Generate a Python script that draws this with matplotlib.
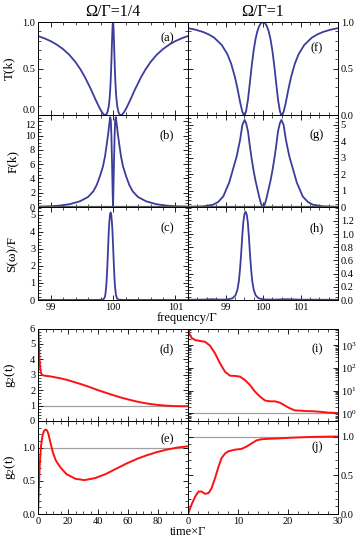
import matplotlib
matplotlib.use('Agg')
import matplotlib.pyplot as plt
from matplotlib.ticker import MultipleLocator, FixedLocator, LogLocator, NullFormatter

plt.rcParams['font.family'] = ['Liberation Serif', 'DejaVu Serif']
plt.rcParams['mathtext.fontset'] = 'custom'
plt.rcParams['mathtext.rm'] = 'Liberation Serif'
plt.rcParams['mathtext.it'] = 'Liberation Serif:italic'
plt.rcParams['mathtext.bf'] = 'Liberation Serif:bold'

# ---------------- data ----------------
# (a) T(k), Omega/Gamma = 1/4
fa = [98.8, 98.9, 99.0, 99.1, 99.2, 99.3, 99.4, 99.48, 99.55, 99.65, 99.72, 99.78, 99.82,
      99.85, 99.865, 99.875, 99.885, 99.9, 99.915, 99.93, 99.945, 99.9525, 99.96, 99.965,
      99.97, 99.975, 99.98, 99.985, 99.99, 99.995, 100.0,
      100.005, 100.01, 100.015, 100.02, 100.025, 100.03, 100.035, 100.04, 100.0475, 100.055,
      100.07, 100.085, 100.1, 100.115, 100.125, 100.135, 100.15, 100.18, 100.22, 100.28,
      100.35, 100.45, 100.52, 100.6, 100.7, 100.8, 100.9, 101.0, 101.1, 101.2]
Ta = [0.849, 0.825, 0.795, 0.757, 0.709, 0.648, 0.569, 0.49, 0.408, 0.272, 0.167, 0.082, 0.034,
      0.008, 0.0015, 0.0, 0.0017, 0.0125, 0.038, 0.086, 0.174, 0.241, 0.33, 0.404,
      0.491, 0.59, 0.699, 0.808, 0.906, 0.975, 1.0,
      0.975, 0.906, 0.808, 0.699, 0.59, 0.491, 0.404, 0.33, 0.241, 0.174,
      0.086, 0.038, 0.0125, 0.0017, 0.0, 0.0015, 0.008, 0.034, 0.082, 0.167,
      0.272, 0.408, 0.49, 0.569, 0.648, 0.709, 0.757, 0.795, 0.825, 0.849]

# (f) T(k), Omega/Gamma = 1
ff = [98.0, 98.2, 98.4, 98.55, 98.7, 98.9, 99.05, 99.15, 99.25, 99.3, 99.33, 99.4, 99.45,
      99.48, 99.5, 99.52, 99.55, 99.6, 99.65, 99.7, 99.75, 99.8, 99.85, 99.9, 99.95, 100.0,
      100.05, 100.1, 100.15, 100.2, 100.25, 100.3, 100.35, 100.4, 100.45, 100.48, 100.5,
      100.52, 100.55, 100.6, 100.67, 100.7, 100.75, 100.85, 100.95, 101.1, 101.3, 101.45,
      101.6, 101.8, 102.0]
Tf = [0.934, 0.917, 0.893, 0.867, 0.831, 0.753, 0.654, 0.553, 0.41, 0.32, 0.261, 0.118, 0.035,
      0.0066, 0.0, 0.006, 0.043, 0.168, 0.347, 0.532, 0.692, 0.815, 0.902, 0.958, 0.99, 1.0,
      0.99, 0.958, 0.902, 0.815, 0.692, 0.532, 0.347, 0.168, 0.043, 0.006, 0.0,
      0.0066, 0.035, 0.118, 0.261, 0.32, 0.41, 0.553, 0.654, 0.753, 0.831, 0.867,
      0.893, 0.917, 0.934]

# (b) F(k), Omega/Gamma = 1/4
fb = [98.8, 99.0, 99.15, 99.31, 99.47, 99.6, 99.685, 99.74, 99.79, 99.84, 99.872, 99.9,
      99.925, 99.94, 99.955, 99.965, 99.975, 99.985, 99.995, 100.0,
      100.005, 100.015, 100.025, 100.035, 100.045, 100.06, 100.075, 100.1, 100.128, 100.16,
      100.21, 100.26, 100.315, 100.4, 100.53, 100.69, 100.85, 101.0, 101.2]
Fb = [0.05, 0.1, 0.2, 0.4, 0.8, 1.4, 2.2, 3.1, 4.3, 5.7, 7.1, 8.8,
      10.4, 11.6, 12.6, 12.2, 9.8, 6.0, 1.8, 0.0,
      1.8, 6.0, 9.8, 12.2, 12.6, 11.6, 10.4, 8.8, 7.1, 5.7,
      4.3, 3.1, 2.2, 1.4, 0.8, 0.4, 0.2, 0.1, 0.05]

# (g) F(k), Omega/Gamma = 1
fg = [98.0, 98.4, 98.67, 98.8, 98.94, 99.1, 99.2, 99.3, 99.39, 99.45, 99.51, 99.55, 99.6,
      99.65, 99.7, 99.75, 99.8, 99.85, 99.9, 99.95, 100.0,
      100.05, 100.1, 100.15, 100.2, 100.25, 100.3, 100.35, 100.4, 100.45, 100.49, 100.55,
      100.61, 100.7, 100.8, 100.9, 101.06, 101.2, 101.33, 101.6, 102.0]
Fg = [0.01, 0.04, 0.14, 0.3, 0.64, 1.5, 2.3, 3.1, 4.1, 5.0, 5.3, 5.1, 4.6,
      3.7, 2.9, 2.2, 1.6, 1.1, 0.6, 0.18, 0.0,
      0.18, 0.6, 1.1, 1.6, 2.2, 2.9, 3.7, 4.6, 5.1, 5.3, 5.0,
      4.1, 3.1, 2.3, 1.5, 0.64, 0.3, 0.14, 0.04, 0.01]

# (c) S(omega)/F, Omega/Gamma = 1/4
fc = [98.8, 99.5, 99.762, 99.832, 99.862, 99.877, 99.892, 99.902, 99.912, 99.922, 99.932,
      99.942, 99.952, 99.962, 99.972, 99.982, 99.992, 100.002, 100.012, 100.022, 100.032,
      100.047, 100.062, 100.092, 100.162, 100.5, 101.2]
Sc = [0.0, 0.003, 0.005, 0.02, 0.1, 0.3, 0.8, 1.4, 2.2, 3.1, 4.0,
      4.6, 5.0, 5.13, 5.0, 4.6, 4.0, 3.1, 2.2, 1.4, 0.8,
      0.3, 0.1, 0.02, 0.005, 0.003, 0.0]

# (h) S(omega)/F, Omega/Gamma = 1
fh = [98.0, 98.4, 98.63, 98.85, 99.035, 99.185, 99.265, 99.315, 99.355, 99.385, 99.415,
      99.445, 99.475, 99.505, 99.535, 99.565, 99.595, 99.625, 99.655, 99.685, 99.715,
      99.755, 99.805, 99.885, 100.035, 100.3, 100.63, 101.0, 102.0]
Sh = [0.003, 0.006, 0.012, 0.006, 0.008, 0.025, 0.07, 0.15, 0.28, 0.45, 0.68,
      0.95, 1.18, 1.3, 1.34, 1.3, 1.18, 0.95, 0.68, 0.45, 0.28,
      0.15, 0.07, 0.025, 0.008, 0.006, 0.012, 0.005, 0.003]

# (d) g2(t), Omega/Gamma = 1/4
td = [0, 0.5, 1, 1.5, 2, 3, 5, 8, 10, 15, 20, 25, 30, 35, 40, 45, 50, 55, 60, 65, 70,
      75, 80, 85, 90, 95, 100]
gd = [6.6, 5.2, 4.0, 3.4, 3.1, 2.97, 2.93, 2.9, 2.86, 2.77, 2.65, 2.5, 2.35, 2.18, 2.0,
      1.84, 1.68, 1.53, 1.4, 1.28, 1.18, 1.1, 1.04, 1.0, 0.97, 0.96, 0.96]

# (e) g2(t), Omega/Gamma = 1/4 (second)
te = [0, 0.5, 1, 1.5, 2, 3, 4, 5, 6, 7, 8, 10, 12, 15, 19, 25, 31, 38, 45, 52, 59, 66,
      72, 79, 86, 93, 100]
ge = [0.0, 0.35, 0.65, 0.87, 1.02, 1.18, 1.25, 1.27, 1.26, 1.2, 1.1, 0.92, 0.8, 0.7, 0.6,
      0.53, 0.51, 0.54, 0.6, 0.68, 0.76, 0.83, 0.88, 0.93, 0.97, 1.0, 1.02]

# (i) g2(t), Omega/Gamma = 1 (log scale)
ti = [0, 0.3, 0.7, 1.4, 2.4, 3.4, 4.4, 5.4, 6.4, 7.4, 8.4, 9.4, 10.4, 11.4, 12.4, 13.4,
      14.4, 15.4, 16.4, 17.4, 18.4, 19.4, 20.4, 21.4, 22.4, 23.5, 25, 26.5, 28, 30]
gi = [6000, 3200, 2190, 1730, 1580, 1450, 980, 447, 162, 69, 46, 45, 42, 29.5, 17.8, 9.1,
      5.5, 3.7, 3.4, 3.4, 2.95, 2.19, 1.66, 1.35, 1.32, 1.26, 1.24, 1.17, 1.08, 1.035]

# (j) g2(t), Omega/Gamma = 1 (second)
tj = [0, 0.7, 1.4, 2.1, 2.7, 3.4, 4.1, 4.7, 5.4, 6.1, 6.7, 7.4, 8.1, 9.4, 10.7, 11.7,
      12.7, 13.7, 14.7, 16, 18, 20.7, 25, 30]
gj = [0.0, 0.12, 0.22, 0.29, 0.29, 0.26, 0.27, 0.33, 0.46, 0.61, 0.72, 0.78, 0.81, 0.83,
      0.84, 0.87, 0.91, 0.95, 0.965, 0.97, 0.975, 0.985, 0.995, 1.0]

BLUE = '#3c3c9c'
RED = '#ff1010'
GRAY = '#a0a0a0'

W, H = 359, 545
fig = plt.figure(figsize=(W / 100, H / 100), dpi=100)


def px_ax(x0, y0, x1, y1):
    return fig.add_axes([x0 / W, 1 - y1 / H, (x1 - x0) / W, (y1 - y0) / H])


def style(ax, right=False, xlabels=True):
    ax.tick_params(which='both', direction='in', top=True, bottom=True, left=True, right=True,
                   labelsize=7.5, pad=2)
    ax.tick_params(which='major', length=3.5, width=0.6)
    ax.tick_params(which='minor', length=2, width=0.5)
    if right:
        ax.tick_params(labelleft=False, labelright=True)
    if not xlabels:
        ax.tick_params(labelbottom=False)
    for s in ax.spines.values():
        s.set_linewidth(0.7)


def tag(ax, s, x, y):
    ax.text(x, y, s, transform=ax.transAxes, ha='center', va='center', fontsize=9)


L0, L1, R1 = 38, 188, 338
rows = [(22, 115), (115, 207), (207, 300), (328.5, 421), (421, 514)]

# left column
a = px_ax(L0, rows[0][0], L1, rows[0][1])
b = px_ax(L0, rows[1][0], L1, rows[1][1])
c = px_ax(L0, rows[2][0], L1, rows[2][1])
d = px_ax(L0, rows[3][0], L1, rows[3][1])
e = px_ax(L0, rows[4][0], L1, rows[4][1])
# right column
f = px_ax(L1, rows[0][0], R1, rows[0][1])
g = px_ax(L1, rows[1][0], R1, rows[1][1])
h = px_ax(L1, rows[2][0], R1, rows[2][1])
i = px_ax(L1, rows[3][0], R1, rows[3][1])
j = px_ax(L1, rows[4][0], R1, rows[4][1])

# ---- frequency panels ----
a.plot(fa, Ta, color=BLUE, lw=1.3)
b.plot(fb, Fb, color=BLUE, lw=1.3)
b.axhline(0, color='#555555', lw=1.6, zorder=3)
c.plot(fc, Sc, color=BLUE, lw=1.3)
f.plot(ff, Tf, color=BLUE, lw=1.3)
g.plot(fg, Fg, color=BLUE, lw=1.3)
g.axhline(0, color='#555555', lw=1.6, zorder=3)
h.plot(fh, Sh, color=BLUE, lw=1.3)

for ax in (a, b, c):
    ax.set_xlim(98.8, 101.2)
    ax.xaxis.set_major_locator(FixedLocator([99, 100, 101]))
    ax.xaxis.set_minor_locator(MultipleLocator(0.2))
for ax in (f, g, h):
    ax.set_xlim(98, 102)
    ax.xaxis.set_major_locator(FixedLocator([99, 100, 101]))
    ax.xaxis.set_minor_locator(MultipleLocator(0.25))

a.set_ylim(0, 1)
f.set_ylim(0, 1)
for ax in (a, f):
    ax.yaxis.set_major_locator(FixedLocator([0, 0.5, 1.0]))
    ax.yaxis.set_minor_locator(MultipleLocator(0.1))
    ax.yaxis.set_major_formatter('{x:.1f}')
b.set_ylim(0, 12.9)
b.yaxis.set_major_locator(FixedLocator([0, 2, 4, 6, 8, 10, 12]))
b.yaxis.set_minor_locator(MultipleLocator(0.5))
g.set_ylim(0, 5.6)
g.yaxis.set_major_locator(MultipleLocator(1))
g.yaxis.set_minor_locator(MultipleLocator(0.2))
c.set_ylim(0, 5.45)
c.yaxis.set_major_locator(MultipleLocator(1))
c.yaxis.set_minor_locator(MultipleLocator(0.2))
h.set_ylim(0, 1.41)
h.yaxis.set_major_locator(FixedLocator([0, 0.2, 0.4, 0.6, 0.8, 1.0, 1.2]))
h.yaxis.set_minor_locator(MultipleLocator(0.05))
h.yaxis.set_major_formatter('{x:.1f}')

style(a, xlabels=False)
style(b, xlabels=False)
style(c)
style(f, right=True, xlabels=False)
style(g, right=True, xlabels=False)
style(h, right=True)

# keep "0.0" of (a) and "12" of (b) from running into each other
a.yaxis.get_major_ticks()[0].label1.set_va('bottom')
b.yaxis.get_major_ticks()[-1].label1.set_va('top')

# ---- time panels ----
for ax in (d, e, i, j):
    ax.axhline(1, color=GRAY, lw=0.9, zorder=1)
d.plot(td, gd, color=RED, lw=1.4)
e.plot(te, ge, color=RED, lw=1.4)
i.plot(ti, gi, color=RED, lw=1.4)
j.plot(tj, gj, color=RED, lw=1.4)

for ax in (d, e):
    ax.set_xlim(0, 100)
    ax.xaxis.set_minor_locator(MultipleLocator(5))
d.xaxis.set_major_locator(FixedLocator([20, 40, 60, 80]))
e.xaxis.set_major_locator(FixedLocator([0, 20, 40, 60, 80]))
for ax in (i, j):
    ax.set_xlim(0, 30)
    ax.xaxis.set_minor_locator(MultipleLocator(2))
i.xaxis.set_major_locator(FixedLocator([10, 20]))
j.xaxis.set_major_locator(FixedLocator([0, 10, 20, 30]))

d.set_ylim(0, 6)
d.yaxis.set_major_locator(MultipleLocator(1))
d.yaxis.set_minor_locator(MultipleLocator(0.2))
e.set_ylim(0, 1.4)
e.yaxis.set_major_locator(FixedLocator([0, 0.5, 1.0]))
e.yaxis.set_minor_locator(MultipleLocator(0.1))
e.yaxis.set_major_formatter('{x:.1f}')
j.set_ylim(0, 1.2)
j.yaxis.set_major_locator(FixedLocator([0, 0.5, 1.0]))
j.yaxis.set_minor_locator(MultipleLocator(0.1))
j.yaxis.set_major_formatter('{x:.1f}')
i.set_yscale('log')
i.set_ylim(0.46, 5600)
i.yaxis.set_major_locator(FixedLocator([1, 10, 100, 1000]))
i.yaxis.set_minor_locator(LogLocator(base=10, subs=range(2, 10)))
i.yaxis.set_minor_formatter(NullFormatter())

style(d)
style(e)
style(i, right=True)
style(j, right=True)

# ---- labels ----
a.set_ylabel('T(k)', fontsize=9.5)
b.set_ylabel('F(k)', fontsize=9.5)
c.set_ylabel('S(ω)/F', fontsize=9.5)
d.set_ylabel('g$_2$(t)', fontsize=9.5)
e.set_ylabel('g$_2$(t)', fontsize=9.5)
a.yaxis.set_label_coords(-0.15, 0.5)
for ax in (b, c, d, e):
    ax.yaxis.set_label_coords(-0.13, 0.5)

tag(a, '(a)', 0.86, 0.83)
tag(b, '(b)', 0.86, 0.78)
tag(c, '(c)', 0.86, 0.77)
tag(d, '(d)', 0.86, 0.77)
tag(e, '(e)', 0.86, 0.80)
tag(f, '(f)', 0.86, 0.72)
tag(g, '(g)', 0.86, 0.78)
tag(h, '(h)', 0.86, 0.77)
tag(i, '(i)', 0.86, 0.77)
tag(j, '(j)', 0.86, 0.72)

fig.text(113 / W, 1 - 12 / H, 'Ω/Γ=1/4', ha='center', va='center', fontsize=11.5)
fig.text(263 / W, 1 - 12 / H, 'Ω/Γ=1', ha='center', va='center', fontsize=11.5)
fig.text(187 / W, 1 - 318 / H, 'frequency/Γ', ha='center', va='center', fontsize=9)
fig.text(188 / W, 1 - 532 / H, 'time×Γ', ha='center', va='center', fontsize=9)

fig.savefig('out.png', dpi=100)
